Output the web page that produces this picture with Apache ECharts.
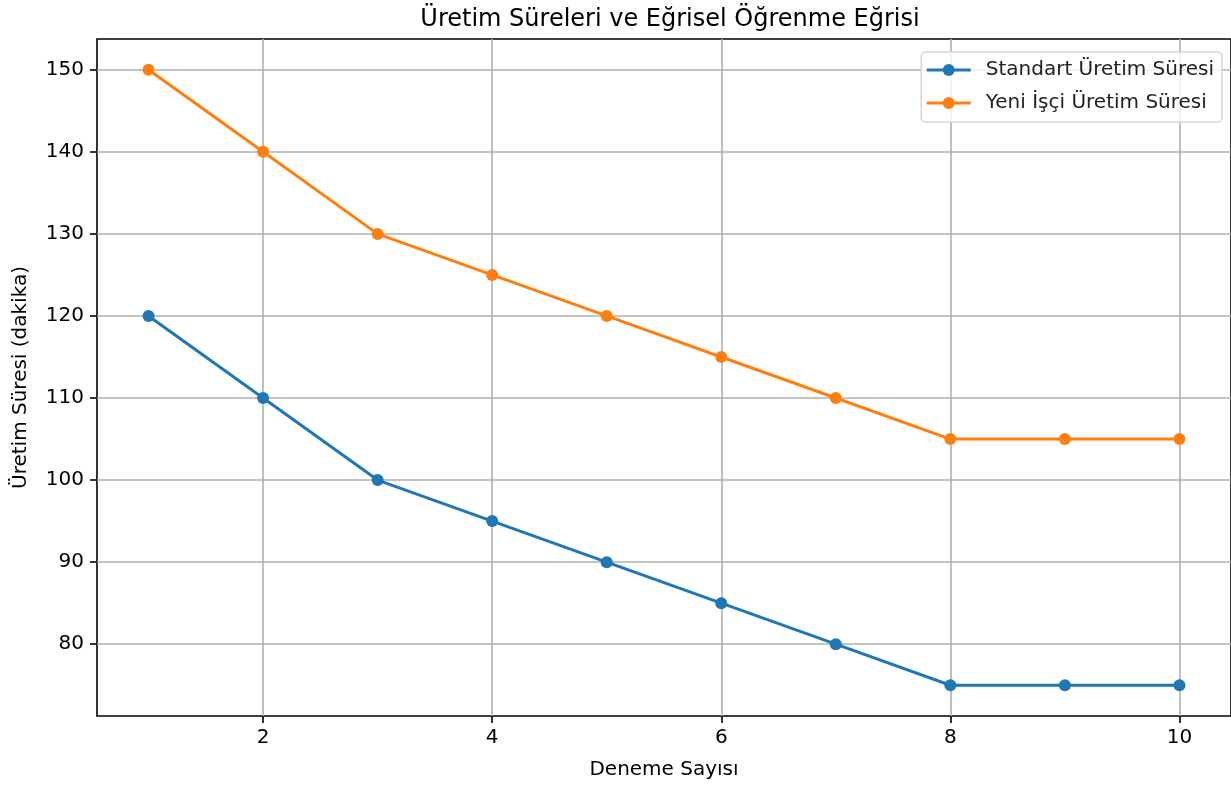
<!DOCTYPE html>
<html>
<head>
<meta charset="utf-8">
<script src="https://cdn.jsdelivr.net/npm/echarts@6/dist/echarts.min.js"></script>
<style>
    html, body { margin: 0; padding: 0; background: #fff; }
    #chart { width: 1231px; height: 787px; }
</style>
</head>
<body>
<div id="chart"></div>
<script>
let trials = [1, 2, 3, 4, 5, 6, 7, 8, 9, 10];
let standardTimes = [120, 110, 100, 95, 90, 85, 80, 75, 75, 75];
let newWorkerTimes = [150, 140, 130, 125, 120, 115, 110, 105, 105, 105];
let xTicks = [2, 4, 6, 8, 10];
let yTicks = [80, 90, 100, 110, 120, 130, 140, 150];

let font = "DejaVu Sans";

function pairs(values) {
    return trials.map((t, i) => [t, values[i]]);
}

function lineSeries(name, values, color) {
    return {
        name: name,
        type: "line",
        data: pairs(values),
        symbol: "circle",
        symbolSize: 12,
        itemStyle: { color: color },
        lineStyle: { color: color, width: 3 },
        emphasis: { disabled: true },
        animation: false
    };
}

let chart = echarts.init(document.getElementById("chart"));
let option = {
    backgroundColor: "#fff",
    title: {
        text: "Üretim Süreleri ve Eğrisel Öğrenme Eğrisi",
        left: 665,
        textAlign: "center",
        top: 3,
        textStyle: { fontFamily: font, fontSize: 24, fontWeight: "normal", color: "#000" }
    },
    grid: {
        left: 97,
        top: 39,
        width: 1136,
        height: 677,
        show: true,
        borderColor: "#000",
        borderWidth: 1.6,
        backgroundColor: "transparent"
    },
    legend: {
        orient: "vertical",
        right: 9,
        top: 52,
        itemWidth: 44,
        itemHeight: 15,
        itemGap: 13,
        padding: [8, 8, 9, 4],
        backgroundColor: "rgba(255,255,255,0.8)",
        borderColor: "#d6d6d6",
        borderWidth: 1.5,
        borderRadius: 4,
        lineStyle: { width: 3 },
        textStyle: { fontFamily: font, fontSize: 20, color: "#222", padding: [0, 0, 0, 10] },
        data: ["Standart Üretim Süresi", "Yeni İşçi Üretim Süresi"]
    },
    xAxis: {
        type: "value",
        min: 0.55,
        max: 10.45,
        name: "Deneme Sayısı",
        nameLocation: "middle",
        nameGap: 44,
        nameTextStyle: { fontFamily: font, fontSize: 20, color: "#000" },
        axisLine: { show: false },
        axisTick: { show: true, customValues: xTicks, length: 7, lineStyle: { color: "#000", width: 1.6 } },
        axisLabel: { customValues: xTicks, margin: 12, fontFamily: font, fontSize: 20, color: "#000" },
        splitLine: { show: true, lineStyle: { color: "#b0b0b0", width: 1.6 } }
    },
    yAxis: {
        type: "value",
        min: 71.25,
        max: 153.75,
        name: "Üretim Süresi (dakika)",
        nameLocation: "middle",
        nameGap: 66,
        nameTextStyle: { fontFamily: font, fontSize: 20, color: "#000" },
        axisLine: { show: false },
        axisTick: { show: true, customValues: yTicks, length: 7, lineStyle: { color: "#000", width: 1.6 } },
        axisLabel: { customValues: yTicks, margin: 13, fontFamily: font, fontSize: 20, color: "#000" },
        splitLine: { show: true, lineStyle: { color: "#b0b0b0", width: 1.6 } }
    },
    series: [
        lineSeries("Standart Üretim Süresi", standardTimes, "#1f77b4"),
        lineSeries("Yeni İşçi Üretim Süresi", newWorkerTimes, "#ff7f0e")
    ]
};
chart.setOption(option);
</script>
</body>
</html>
